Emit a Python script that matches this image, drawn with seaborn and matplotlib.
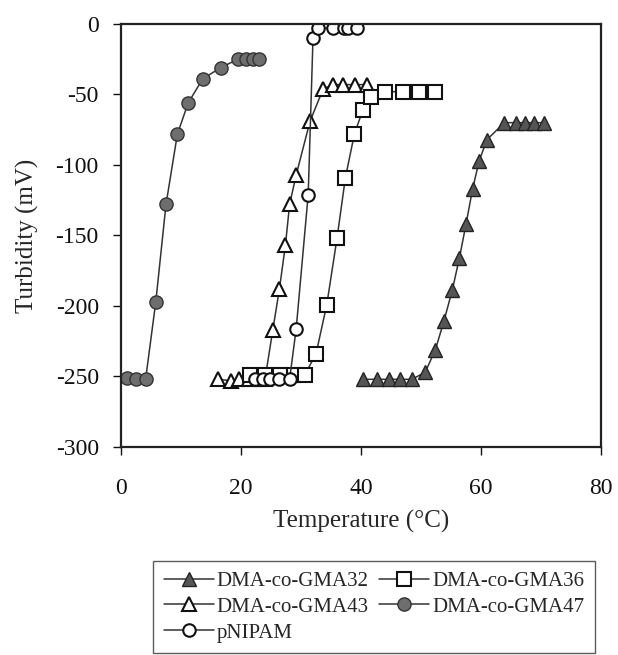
import numpy as np
import pandas as pd
import matplotlib
matplotlib.use("Agg")
import matplotlib.pyplot as plt
import seaborn as sns

# data
t_gma32 = [40.4, 42.6, 44.6, 46.5, 48.5, 50.7, 52.4, 53.8, 55.2, 56.4, 57.5, 58.6, 59.7, 61.0, 63.9, 65.8, 67.4, 68.9, 70.5]
y_gma32 = [-252, -252, -252, -252, -252, -247, -231, -211, -189, -166, -142, -117, -97, -82, -70, -70, -70, -70, -70]

t_gma36 = [21.5, 24.0, 26.5, 28.8, 30.6, 32.5, 34.3, 36.0, 37.4, 38.9, 40.3, 41.7, 44.0, 47.0, 49.6, 52.3]
y_gma36 = [-249, -249, -249, -249, -249, -234, -199, -152, -109, -78, -61, -52, -48, -48, -48, -48]

t_gma43 = [16.1, 18.3, 19.7, 21.4, 22.8, 24.0, 25.3, 26.4, 27.4, 28.1, 29.2, 31.5, 33.7, 35.4, 37.0, 39.0, 41.0]
y_gma43 = [-252, -253, -252, -252, -252, -252, -217, -188, -157, -128, -107, -69, -46, -43, -43, -43, -43]

t_gma47 = [1.0, 2.5, 4.1, 5.8, 7.5, 9.4, 11.2, 13.6, 16.6, 19.5, 20.8, 22.0, 23.0]
y_gma47 = [-251, -252, -252, -197, -128, -78, -56, -39, -31, -25, -25, -25, -25]

t_pnipam = [22.3, 23.7, 24.8, 26.4, 28.1, 29.2, 31.2, 32.0, 32.9, 35.3, 37.2, 37.9, 39.3]
y_pnipam = [-252, -252, -252, -252, -252, -216, -121, -10, -3, -3, -3, -3, -3]

sns.set_style("ticks")
plt.rcParams['font.family'] = ['Liberation Serif', 'DejaVu Serif']
plt.rcParams['axes.unicode_minus'] = False

fig = plt.figure(figsize=(6.18, 6.55), dpi=100)
ax = fig.add_axes([0.1958, 0.3176, 0.7767, 0.6458])

line_kw = dict(color="#333333", linewidth=1.1, sort=False, estimator=None, ax=ax)

sns.lineplot(x=t_gma32, y=y_gma32, marker="^", markersize=10, markerfacecolor="#555555",
             markeredgecolor="#222222", markeredgewidth=1.0, label="DMA-co-GMA32", **line_kw)
sns.lineplot(x=t_gma43, y=y_gma43, marker="^", markersize=10, markerfacecolor="white",
             markeredgecolor="#111111", markeredgewidth=1.5, label="DMA-co-GMA43", **line_kw)
sns.lineplot(x=t_gma36, y=y_gma36, marker="s", markersize=9.5, markerfacecolor="white",
             markeredgecolor="#111111", markeredgewidth=1.5, label="DMA-co-GMA36", **line_kw)
sns.lineplot(x=t_gma47, y=y_gma47, marker="o", markersize=9.5, markerfacecolor="#6e6e6e",
             markeredgecolor="#333333", markeredgewidth=1.0, label="DMA-co-GMA47", **line_kw)
sns.lineplot(x=t_pnipam, y=y_pnipam, marker="o", markersize=9, markerfacecolor="white",
             markeredgecolor="#111111", markeredgewidth=1.5, label="pNIPAM", **line_kw)

ax.set_xlim(0, 80)
ax.set_ylim(-300, 0)
ax.set_xticks([0, 20, 40, 60, 80])
ax.set_yticks([0, -50, -100, -150, -200, -250, -300])
ax.tick_params(direction="out", length=6, width=1, labelsize=17, colors="#111111")
ax.tick_params(axis="x", pad=16)
ax.tick_params(axis="y", pad=10)
for s in ax.spines.values():
    s.set_visible(True)
    s.set_color("#222222")
    s.set_linewidth(1.6)
ax.set_xlabel("Temperature (°C)", fontsize=18, labelpad=8)
ax.set_ylabel("Turbidity (mV)", fontsize=18, labelpad=12)

# legend order: column-wise fill gives row order 32,36 / 43,47 / pNIPAM
handles, labels = ax.get_legend_handles_labels()
order = ["DMA-co-GMA32", "DMA-co-GMA43", "pNIPAM", "DMA-co-GMA36", "DMA-co-GMA47"]
h = [handles[labels.index(o)] for o in order]
ax.legend(h, order, ncol=2, loc="lower left", bbox_to_anchor=(0.248, 0.003, 0.715, 0.16),
          bbox_transform=fig.transFigure, mode="expand", fontsize=15, frameon=True,
          fancybox=False, edgecolor="#333333", handlelength=2.4, handletextpad=0.15,
          columnspacing=0.6, labelspacing=0.3, borderpad=0.5, borderaxespad=0)

fig.savefig("out.png", dpi=100)
